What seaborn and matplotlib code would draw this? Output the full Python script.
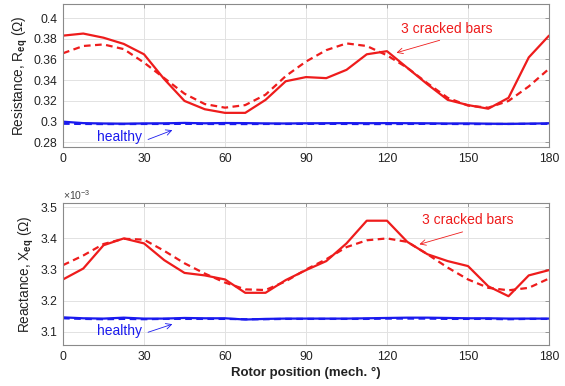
import numpy as np
import pandas as pd
import seaborn as sns
import matplotlib.pyplot as plt
from matplotlib.ticker import FormatStrFormatter

# Rotor position (mech. deg)
position = [0, 7.5, 15, 22.5, 30, 37.5, 45, 52.5, 60, 67.5, 75, 82.5, 90,
            97.5, 105, 112.5, 120, 127.5, 135, 142.5, 150, 157.5, 165, 172.5, 180]

# Resistance (Ohm)
r_cracked = [0.383, 0.385, 0.381, 0.375, 0.365, 0.341, 0.320, 0.312, 0.3085,
             0.3085, 0.321, 0.339, 0.343, 0.342, 0.350, 0.365, 0.368, 0.352,
             0.336, 0.321, 0.316, 0.3125, 0.323, 0.362, 0.383]
r_cracked_fit = [0.366, 0.373, 0.3745, 0.370, 0.357, 0.342, 0.327, 0.317, 0.3135,
                 0.316, 0.326, 0.344, 0.358, 0.369, 0.3755, 0.373, 0.364, 0.352,
                 0.337, 0.323, 0.3155, 0.3135, 0.320, 0.334, 0.351]
r_healthy = [0.3000, 0.2986, 0.2982, 0.2980, 0.2983, 0.2984, 0.2988, 0.2984,
             0.2987, 0.2986, 0.2983, 0.2982, 0.2984, 0.2985, 0.2986, 0.2985,
             0.2986, 0.2985, 0.2984, 0.2982, 0.2983, 0.2980, 0.2978, 0.2981, 0.2984]
r_healthy_fit = [0.2980, 0.2978, 0.2977, 0.2977, 0.2978, 0.2978, 0.2979, 0.2978,
                 0.2977, 0.2977, 0.2978, 0.2978, 0.2979, 0.2979, 0.2978, 0.2977,
                 0.2977, 0.2978, 0.2979, 0.2978, 0.2977, 0.2977, 0.2978, 0.2979, 0.2979]

# Reactance (x 1e-3 Ohm)
x_cracked = [3.268, 3.303, 3.378, 3.400, 3.384, 3.330, 3.289, 3.281, 3.268,
             3.225, 3.225, 3.266, 3.298, 3.327, 3.384, 3.457, 3.457, 3.389,
             3.349, 3.327, 3.311, 3.246, 3.214, 3.281, 3.298]
x_cracked_fit = [3.314, 3.345, 3.382, 3.399, 3.396, 3.360, 3.320, 3.287, 3.258,
                 3.236, 3.234, 3.262, 3.300, 3.333, 3.372, 3.394, 3.400, 3.389,
                 3.349, 3.306, 3.268, 3.241, 3.233, 3.241, 3.271]
x_healthy = [3.146, 3.143, 3.142, 3.145, 3.142, 3.142, 3.144, 3.143, 3.143,
             3.139, 3.141, 3.142, 3.142, 3.142, 3.142, 3.143, 3.144, 3.145,
             3.145, 3.144, 3.143, 3.143, 3.142, 3.142, 3.142]
x_healthy_fit = [3.143, 3.141, 3.140, 3.141, 3.140, 3.141, 3.141, 3.141, 3.141,
                 3.140, 3.140, 3.141, 3.141, 3.141, 3.141, 3.141, 3.142, 3.142,
                 3.142, 3.141, 3.141, 3.141, 3.140, 3.141, 3.141]

sns.set_style("whitegrid")
plt.rcParams["font.family"] = ["Liberation Sans", "DejaVu Sans"]
plt.rcParams["mathtext.fontset"] = "custom"
plt.rcParams["mathtext.rm"] = "Liberation Sans"
plt.rcParams["mathtext.bf"] = "Liberation Sans:bold"

RED = "#ee1c1c"
BLUE = "#1a1aee"

df = pd.DataFrame({
    "pos": position,
    "r_cr": r_cracked, "r_cr_fit": r_cracked_fit,
    "r_h": r_healthy, "r_h_fit": r_healthy_fit,
    "x_cr": x_cracked, "x_cr_fit": x_cracked_fit,
    "x_h": x_healthy, "x_h_fit": x_healthy_fit,
})

fig = plt.figure(figsize=(5.65, 3.86), dpi=100)
ax1 = fig.add_axes([0.1115, 0.619, 0.8602, 0.3706])
ax2 = fig.add_axes([0.1115, 0.1062, 0.8602, 0.3671])


def draw(ax, cols):
    solid_cr, fit_cr, solid_h, fit_h = cols
    sns.lineplot(data=df, x="pos", y=fit_h, ax=ax, color=BLUE, lw=1.6,
                 linestyle=(0, (3, 2)))
    sns.lineplot(data=df, x="pos", y=solid_h, ax=ax, color=BLUE, lw=1.6)
    sns.lineplot(data=df, x="pos", y=fit_cr, ax=ax, color=RED, lw=1.6,
                 linestyle=(0, (3, 2)))
    sns.lineplot(data=df, x="pos", y=solid_cr, ax=ax, color=RED, lw=1.6)
    ax.set_xlim(0, 180)
    ax.set_xticks(range(0, 181, 30))
    ax.grid(True, color="#e2e2e2", lw=0.7)
    for s in ax.spines.values():
        s.set_color("#8a8a8a")
        s.set_linewidth(0.8)
    ax.tick_params(direction="in", length=3, width=0.6, color="#8a8a8a",
                   labelsize=8.7, labelcolor="#222222", top=True, right=True,
                   pad=4)
    ax.set_xlabel("")


draw(ax1, ["r_cr", "r_cr_fit", "r_h", "r_h_fit"])
ax1.set_ylim(0.2755, 0.4135)
ax1.set_yticks([0.28, 0.30, 0.32, 0.34, 0.36, 0.38, 0.40])
ax1.yaxis.set_major_formatter(FormatStrFormatter("%g"))
ax1.set_ylabel(r"Resistance, R$_{\mathbf{eq}}$ ($\Omega$)", fontsize=9.8,
               color="#222222", labelpad=3)

draw(ax2, ["x_cr", "x_cr_fit", "x_h", "x_h_fit"])
ax2.set_ylim(3.057, 3.513)
ax2.set_yticks([3.1, 3.2, 3.3, 3.4, 3.5])
ax2.yaxis.set_major_formatter(FormatStrFormatter("%g"))
ax2.set_ylabel(r"Reactance, X$_{\mathbf{eq}}$ ($\Omega$)", fontsize=9.8,
               color="#222222", labelpad=3)
ax2.text(0.0, 1.01, r"$\times$10$^{-3}$", transform=ax2.transAxes,
         fontsize=7.5, color="#444444", ha="left", va="bottom")
ax2.set_xlabel("Rotor position (mech. °)", fontsize=9.5, fontweight="bold",
               color="#222222", labelpad=3)

# annotations
arrow_r = dict(arrowstyle="->", color=RED, lw=0.6, shrinkA=0, shrinkB=0)
arrow_b = dict(arrowstyle="->", color=BLUE, lw=0.6, shrinkA=0, shrinkB=0)

ax1.text(142, 0.389, "3 cracked bars", color=RED, fontsize=10,
         ha="center", va="center")
ax1.annotate("", xy=(123.5, 0.3665), xytext=(139.5, 0.3785), arrowprops=arrow_r)
ax1.text(21, 0.2853, "healthy", color=BLUE, fontsize=10,
         ha="center", va="center")
ax1.annotate("", xy=(40.5, 0.2918), xytext=(31.5, 0.2828), arrowprops=arrow_b)

ax2.text(150, 3.459, "3 cracked bars", color=RED, fontsize=10,
         ha="center", va="center")
ax2.annotate("", xy=(132, 3.381), xytext=(148, 3.421), arrowprops=arrow_r)
ax2.text(21, 3.103, "healthy", color=BLUE, fontsize=10,
         ha="center", va="center")
ax2.annotate("", xy=(40.5, 3.124), xytext=(31.5, 3.098), arrowprops=arrow_b)

fig.savefig("out.png", dpi=100)
plt.close(fig)
